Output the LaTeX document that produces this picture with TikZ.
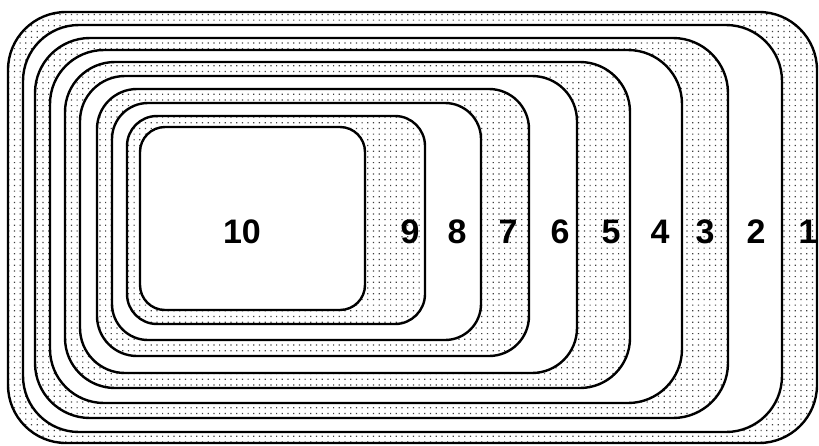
\documentclass[tikz,border=0pt]{standalone}
\usepackage{fontspec}
\setmainfont{Liberation Sans}
\usepackage{tikz}

\begin{document}
\begin{tikzpicture}[x=1pt, y=-1pt,
        ring/.style={draw=black, line width=2.4pt},
        dot/.style={fill=black!75},
        num/.style={font=\fontsize{34}{36}\selectfont\bfseries}]
    \useasboundingbox (0,0) rectangle (819,445);

    % corners of the rings, outside in
    \coordinate (a1) at (8,12);    \coordinate (b1) at (817,443);
    \coordinate (a2) at (23,25);   \coordinate (b2) at (782,432);
    \coordinate (a3) at (35,38);   \coordinate (b3) at (728,418);
    \coordinate (a4) at (50,50);   \coordinate (b4) at (682,403);
    \coordinate (a5) at (65,62);   \coordinate (b5) at (630,388);
    \coordinate (a6) at (80,76);   \coordinate (b6) at (577,373);
    \coordinate (a7) at (97,89);   \coordinate (b7) at (529,356);
    \coordinate (a8) at (112,103); \coordinate (b8) at (481,340);
    \coordinate (a9) at (127,116); \coordinate (b9) at (425,324);
    \coordinate (a10) at (140,127); \coordinate (b10) at (365,310);

    % dotted ground
    \begin{scope}
        \clip[rounded corners=58pt] (a1) rectangle (b1);
        \foreach \i in {0,...,143}
            \fill[dot] \foreach \j in {0,...,77} {({\i*5.7+2.4},{\j*5.7+2.4}) rectangle +(1.2,1.2)};
    \end{scope}

    % white rings
    \foreach \k/\r/\m/\s in {2/56/3/55, 4/54/5/50, 6/45/7/40, 8/36/9/30}
        \fill[white, even odd rule] [rounded corners=\r pt] (a\k) rectangle (b\k) [rounded corners=\s pt] (a\m) rectangle (b\m);
    \fill[white, rounded corners=25pt] (a10) rectangle (b10);

    % outlines
    \foreach \k/\r in {1/58, 2/56, 3/55, 4/54, 5/50, 6/45, 7/40, 8/36, 9/30, 10/25}
        \draw[ring, rounded corners=\r pt] (a\k) rectangle (b\k);

    \node[num] (l1) at (808,232) {1};
    \node[num] (l2) at (756,232) {2};
    \node[num] (l3) at (705,232) {3};
    \node[num] (l4) at (660,232) {4};
    \node[num] (l5) at (611,232) {5};
    \node[num] (l6) at (560,232) {6};
    \node[num] (l7) at (508,232) {7};
    \node[num] (l8) at (457,232) {8};
    \node[num] (l9) at (410,232) {9};
    \node[num] (l10) at (242,232) {10};
\end{tikzpicture}
\end{document}
